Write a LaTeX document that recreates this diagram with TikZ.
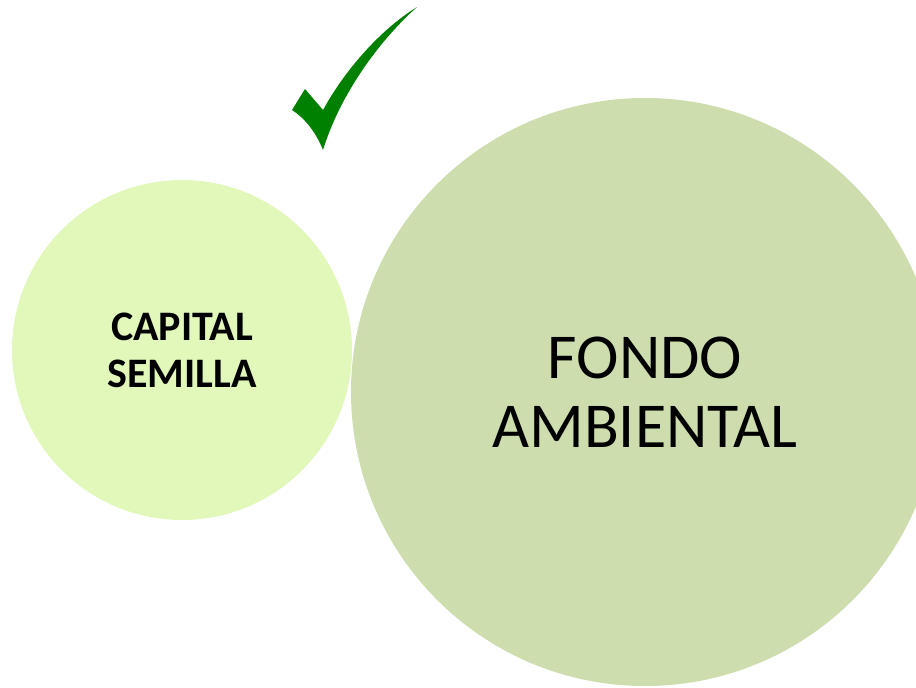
\documentclass[tikz,border=0pt]{standalone}
\usepackage{fontspec}
\setmainfont{Carlito}
\usepackage{xcolor}
\usepackage{tikz}
\usetikzlibrary{positioning}

\definecolor{semillagreen}{HTML}{E2F8BA}
\definecolor{fondogreen}{HTML}{CEDDAE}
\definecolor{checkgreen}{HTML}{008000}

\tikzset{
  bubble/.style={circle,inner sep=0pt,align=center,text=black},
}

\begin{document}
\begin{tikzpicture}[x=1pt,y=-1pt]
		\useasboundingbox (0,0) rectangle (916,688);
		
		\node[bubble,fill=semillagreen,minimum size=340pt,font=\fontsize{42}{47}\selectfont\bfseries] (semilla) at (182,350) {CAPITAL\\SEMILLA};
		\node[bubble,fill=fondogreen,minimum size=588pt,font=\fontsize{64}{69}\selectfont] (fondo) at (645,392) {FONDO\\AMBIENTAL};
		
		% tick above the small circle
		\fill[checkgreen] (292,110) -- (305,89) -- (323,110)
			.. controls (345,70) and (380,30) .. (417,7)
			.. controls (378,42) and (340,95) .. (323,150)
			.. controls (315,130) and (303,117) .. (292,110) -- cycle;
		\end{tikzpicture}
\end{document}
